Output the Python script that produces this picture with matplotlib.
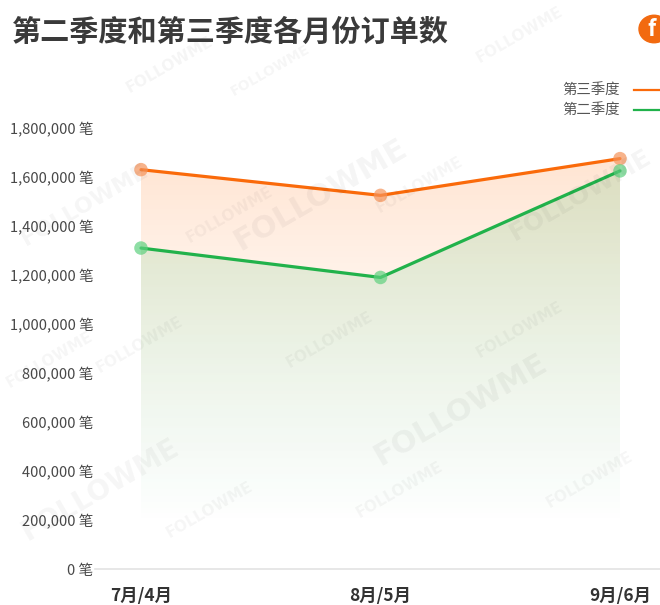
import numpy as np
import matplotlib
matplotlib.use("Agg")
import matplotlib.pyplot as plt
from matplotlib.patches import Polygon, Circle

plt.rcParams['font.family'] = ['Noto Sans CJK SC', 'DejaVu Sans']

# 数据
months = ["7月/4月", "8月/5月", "9月/6月"]
q3_orders = [1630000, 1525000, 1675000]
q2_orders = [1310000, 1190000, 1625000]
yticks = [0, 200000, 400000, 600000, 800000, 1000000, 1200000, 1400000, 1600000, 1800000]
series_names = ["第三季度", "第二季度"]

ORANGE = "#fa6a0a"
GREEN = "#21b24b"
TEXT = "#484848"

fig = plt.figure(figsize=(6.6, 6.05), dpi=100)
ax = fig.add_axes([95 / 660, 36 / 605, 565 / 660, 441 / 605])

x = np.arange(len(months))
ax.set_xlim(-0.192, 2.167)
ax.set_ylim(0, 1800000)

fade_end = 190000
top = max(q3_orders)


def gradient_fill(values, rgb, a_top, power):
    # 渐变面积：从折线向下淡出
    ys = np.linspace(0, top, 300)
    t = np.clip((ys - fade_end) / (top - fade_end), 0, 1) ** power
    img = np.zeros((len(ys), 2, 4))
    img[:, :, 0] = rgb[0]
    img[:, :, 1] = rgb[1]
    img[:, :, 2] = rgb[2]
    img[:, :, 3] = (a_top * t)[:, None]
    im = ax.imshow(img, extent=[x[0], x[-1], 0, top], origin="lower",
                   aspect="auto", interpolation="bilinear", zorder=1)
    verts = list(zip(x, values)) + [(x[-1], 0), (x[0], 0)]
    poly = Polygon(verts, closed=True, facecolor="none", edgecolor="none",
                   transform=ax.transData)
    ax.add_patch(poly)
    im.set_clip_path(poly)


gradient_fill(q3_orders, (1.0, 0.42, 0.0), 0.18, 1.8)
gradient_fill(q2_orders, (0.13, 0.72, 0.32), 0.16, 0.8)

ax.plot(x, q3_orders, color=ORANGE, lw=2.3, zorder=3, solid_capstyle="round")
ax.plot(x, q2_orders, color=GREEN, lw=2.3, zorder=3, solid_capstyle="round")
ax.scatter(x, q3_orders, s=95, color="#f5935a", alpha=0.7, zorder=4,
           edgecolors="none", clip_on=False)
ax.scatter(x, q2_orders, s=95, color="#5fd17f", alpha=0.7, zorder=4,
           edgecolors="none", clip_on=False)

# 坐标轴
ax.axhline(0, color="#e3e3e3", lw=1.2, zorder=2, clip_on=False)
for s in ax.spines.values():
    s.set_visible(False)
ax.set_yticks(yticks)
ax.set_yticklabels([f"{v:,} 笔" for v in yticks], fontsize=10.5, color=TEXT,
                   fontweight="medium")
ax.set_xticks(x)
ax.set_xticklabels(months, fontsize=12.5, color="#333333", fontweight="bold")
ax.tick_params(axis="both", length=0)
ax.tick_params(axis="y", pad=1)
ax.tick_params(axis="x", pad=13)
ax.set_facecolor("none")

# 标题
fig.text(12 / 660, 1 - 32 / 605, "第二季度和第三季度各月份订单数", fontsize=21,
         fontweight="bold", color="#3a3a3a", va="center", ha="left")

# 图例
for i, (name, col) in enumerate(zip(series_names, [ORANGE, GREEN])):
    yy = 1 - (90 + 20 * i) / 605
    fig.text(620 / 660, yy, name, fontsize=10.4, color="#555555",
             ha="right", va="center")
    fig.add_artist(plt.Line2D([634 / 660, 1.0], [yy, yy], color=col, lw=1.6,
                              transform=fig.transFigure))

# 右上角标志
fig.add_artist(Circle((654 / 660, 1 - 29 / 605), 15 / 660, color="#f26a10",
                      transform=fig.transFigure))
fig.text(652 / 660, 1 - 30 / 605, "f", fontsize=16, fontweight="bold",
         fontstyle="italic", color="white", ha="center", va="center")

# 水印
marks = [(170, 65, 11, 0.045), (270, 70, 10, 0.04), (520, 35, 11, 0.04),
         (320, 195, 22, 0.045), (230, 215, 11, 0.04), (420, 185, 11, 0.04),
         (580, 195, 18, 0.045), (85, 205, 16, 0.04), (140, 345, 11, 0.04),
         (330, 340, 11, 0.04), (520, 330, 11, 0.04), (100, 490, 20, 0.04),
         (460, 410, 22, 0.045), (210, 510, 11, 0.04), (400, 490, 11, 0.04),
         (590, 480, 11, 0.04), (50, 360, 11, 0.04)]
for px, py, fs, a in marks:
    fig.text(px / 660, 1 - py / 605, "FOLLOWME", fontsize=fs, fontweight="bold",
             color="black", alpha=a, rotation=30, ha="center", va="center",
             family="DejaVu Sans", zorder=0)

fig.savefig("out.png", dpi=100)
